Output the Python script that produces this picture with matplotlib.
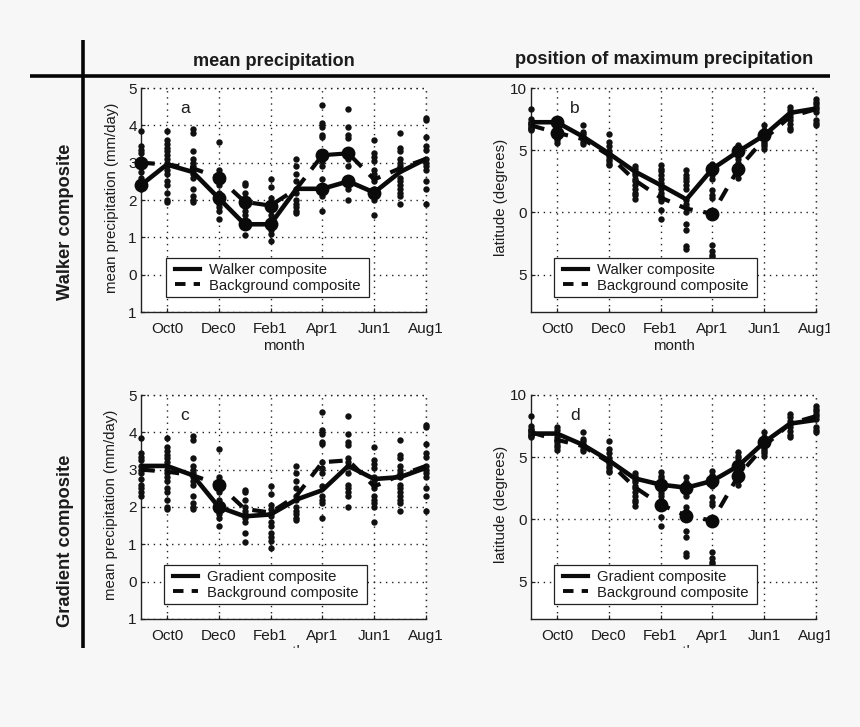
import matplotlib as mpl
mpl.use('Agg')
import matplotlib.pyplot as plt
from matplotlib.patches import Rectangle
from matplotlib.lines import Line2D
from matplotlib.legend_handler import HandlerLine2D

months = list(range(12))
tick_months = [1, 3, 5, 7, 9, 11]
tick_labels = ['Oct0', 'Dec0', 'Feb1', 'Apr1', 'Jun1', 'Aug1']

# yearly dots, one list per month (Sep0 .. Aug1)
precip_dots = [
    [3.85, 3.45, 3.35, 3.25, 3.1, 3.0, 2.9, 2.75, 2.6, 2.5, 2.4, 2.3],
    [3.85, 3.6, 3.5, 3.4, 3.3, 3.2, 3.1, 3.0, 2.9, 2.8, 2.7, 2.5, 2.4, 2.2, 2.0, 1.95],
    [3.9, 3.8, 3.3, 3.1, 3.0, 2.9, 2.8, 2.7, 2.6, 2.3, 2.1, 2.0, 1.95],
    [3.55, 2.8, 2.7, 2.6, 2.5, 2.4, 2.2, 2.1, 2.0, 1.9, 1.8, 1.7, 1.5],
    [2.45, 2.4, 2.2, 2.0, 1.9, 1.8, 1.7, 1.6, 1.3, 1.05],
    [2.55, 2.35, 2.05, 1.95, 1.85, 1.75, 1.6, 1.5, 1.3, 1.2, 1.1, 0.9],
    [3.1, 2.9, 2.7, 2.5, 2.3, 2.2, 2.0, 1.9, 1.8, 1.7, 1.65],
    [4.55, 4.05, 3.95, 3.75, 3.7, 3.2, 3.05, 2.9, 2.55, 2.3, 2.2, 2.1, 1.7],
    [4.45, 3.95, 3.75, 3.65, 3.3, 3.2, 3.1, 2.9, 2.6, 2.5, 2.4, 2.3, 2.0],
    [3.6, 3.25, 3.15, 3.05, 2.8, 2.7, 2.6, 2.5, 2.3, 2.2, 2.1, 2.0, 1.6],
    [3.8, 3.4, 3.3, 3.1, 3.0, 2.9, 2.8, 2.6, 2.5, 2.4, 2.3, 2.2, 2.1, 1.9],
    [4.2, 4.15, 3.7, 3.45, 3.35, 3.1, 3.0, 2.9, 2.8, 2.5, 2.3, 1.9],
]
lat_dots = [
    [8.3, 7.5, 7.3, 7.2, 7.1, 7.0, 6.9, 6.8, 6.7, 6.6],
    [7.4, 7.2, 6.9, 6.6, 6.4, 6.2, 6.0, 5.8, 5.6],
    [7.0, 6.5, 6.3, 6.1, 5.9, 5.7, 5.5],
    [6.3, 5.7, 5.3, 4.9, 4.7, 4.5, 4.3, 4.1, 3.9, 3.8],
    [3.7, 3.5, 3.2, 3.0, 2.7, 2.5, 2.2, 1.9, 1.6, 1.4, 1.1],
    [3.8, 3.5, 3.3, 3.0, 2.7, 2.4, 2.1, 1.9, 1.6, 1.3, 1.1, 0.9, 0.2, -0.5],
    [3.4, 3.0, 2.8, 2.5, 2.2, 1.9, 1.0, 0.7, 0.4, 0.0, -0.9, -1.4, -2.7, -2.9],
    [3.9, 3.6, 3.3, 3.0, 2.7, 1.8, 1.4, 1.2, 0.0, -2.6, -3.1, -3.4, -3.6],
    [5.4, 5.1, 4.9, 4.6, 4.3, 4.0, 3.7, 3.4, 3.1, 2.8],
    [7.0, 6.6, 6.3, 6.1, 5.9, 5.7, 5.5, 5.3, 5.1],
    [8.5, 8.2, 7.9, 7.7, 7.4, 7.1, 6.8, 6.6],
    [9.1, 8.9, 8.7, 8.5, 8.3, 8.1, 7.4, 7.2, 7.0],
]

precip_walker = [2.4, 2.95, 2.75, 2.05, 1.35, 1.35, 2.3, 2.3, 2.5, 2.2, 2.75, 3.1]
precip_gradient = [3.1, 3.1, 2.85, 2.0, 1.75, 1.8, 2.2, 2.45, 3.1, 2.75, 2.8, 3.05]
precip_background = [3.0, 2.95, 2.85, 2.6, 1.95, 1.85, 2.3, 3.2, 3.25, 2.55, 2.85, 3.1]
lat_walker = [7.25, 7.25, 6.1, 4.75, 3.3, 2.2, 1.05, 3.5, 4.9, 6.2, 8.0, 8.35]
lat_gradient = [6.9, 6.9, 6.0, 4.75, 3.3, 2.8, 2.55, 3.1, 4.3, 6.2, 7.7, 8.0]
lat_background = [7.0, 6.4, 5.9, 4.6, 2.6, 1.2, 0.3, -0.1, 3.5, 5.9, 7.7, 8.3]

# months that carry a big marker
big_a_main = [0, 3, 4, 5, 7, 8, 9]
big_a_back = [0, 3, 4, 5, 7, 8]
big_b_main = [1, 7, 8, 9]
big_b_back = [1, 7, 8]
big_c_main = [3]
big_c_back = [3]
big_d_main = [5, 6, 7, 8, 9]
big_d_back = [5, 6, 7, 8]

precip_ticks = [-1, 0, 1, 2, 3, 4, 5]
precip_ticklabels = ['1', '0', '1', '2', '3', '4', '5']
lat_ticks = [0, 5, 10, -5]
lat_ticklabels = ['0', '5', '10', '5']

W, H = 860, 727
BG = '#f7f7f7'
TXT = '#1c1c1c'
GRID = (0, (1, 3.4))
plt.rcParams['font.family'] = ['Liberation Sans', 'DejaVu Sans']

fig = plt.figure(figsize=(W / 100, H / 100), dpi=100, facecolor=BG)


def add_panel(left, top, right, bottom, dots, main, back, big_main, big_back, name,
              ylim, yticks, yticklabels, ylabel, letter, label_x, legend_x):
    ax = fig.add_axes([left / W, 1 - bottom / H, (right - left) / W, (bottom - top) / H])
    ax.set_facecolor('white')
    for m, vals in zip(months, dots):
        ax.plot([m] * len(vals), vals, 'o', color='#111111', ms=4.6, mew=0, zorder=3, clip_on=False)
    ax.plot(months, back, color='#0a0a0a', lw=3.0, dashes=(3.3, 2.6), zorder=4)
    ax.plot(months, main, color='#0a0a0a', lw=3.3, zorder=5)
    ax.plot(big_back, [back[i] for i in big_back], 'o', color='#0a0a0a', ms=10, mew=0, zorder=4, clip_on=False)
    ax.plot(big_main, [main[i] for i in big_main], 'o', color='#0a0a0a', ms=10, mew=0, zorder=5, clip_on=False)
    ax.set_xlim(0, 11)
    ax.set_ylim(*ylim)
    ax.set_xticks(tick_months)
    ax.set_xticklabels(tick_labels)
    ax.set_yticks(yticks)
    ax.set_yticklabels(yticklabels)
    ax.grid(True, color='#222222', ls=GRID, lw=1.0)
    ax.set_axisbelow(True)
    # gridlines along the open top and right edges
    ax.axhline(ylim[1], color='#222222', ls=GRID, lw=1.0, clip_on=False, zorder=1)
    ax.axvline(11, color='#222222', ls=GRID, lw=1.0, clip_on=False, zorder=1)
    ax.spines['top'].set_visible(False)
    ax.spines['right'].set_visible(False)
    for s in ['left', 'bottom']:
        ax.spines[s].set_linewidth(1.0)
        ax.spines[s].set_color('#222222')
    ax.tick_params(direction='in', length=3, width=0.9, color='#222222', labelcolor=TXT,
                   labelsize=11, pad=3)
    ax.tick_params(axis='x', pad=7)
    ax.set_xlabel('month', fontsize=10.8, color=TXT, labelpad=2)
    ax.set_ylabel(ylabel, fontsize=10.8, color=TXT)
    ax.yaxis.set_label_coords((label_x - left) / (right - left), 0.51)
    ax.text(1.7, 0.91, letter, transform=ax.get_xaxis_transform(), fontsize=12.5, color=TXT,
            ha='center', va='center', zorder=6)
    handles = [Line2D([], [], color='#0a0a0a', lw=3.0),
               Line2D([], [], color='#0a0a0a', lw=2.8, dashes=(2.7, 2.1))]
    pad_handler = HandlerLine2D(marker_pad=0.32, numpoints=2)
    leg = ax.legend(handles, [name, 'Background composite'], loc='lower left',
                    bbox_to_anchor=((legend_x - left) / 285, 15 / 224, 203 / 285, 38 / 224),
                    mode='expand', borderaxespad=0, fontsize=10.75,
                    fancybox=False, framealpha=1, edgecolor='#222222', handlelength=2.27,
                    labelspacing=0.12, borderpad=0.3, handletextpad=0.3, labelcolor=TXT,
                    handler_map={handles[0]: pad_handler, handles[1]: pad_handler})
    leg.get_frame().set_linewidth(0.9)
    leg.set_zorder(7)
    return ax


add_panel(141, 88, 426, 312, precip_dots, precip_walker, precip_background, big_a_main, big_a_back,
          'Walker composite', (-1, 5), precip_ticks, precip_ticklabels, 'mean precipitation (mm/day)', 'a', 119, 166)
add_panel(531, 88, 816, 312, lat_dots, lat_walker, lat_background, big_b_main, big_b_back,
          'Walker composite', (-8, 10), lat_ticks, lat_ticklabels, 'latitude (degrees)', 'b', 508, 554)
add_panel(141, 395, 426, 619, precip_dots, precip_gradient, precip_background, big_c_main, big_c_back,
          'Gradient composite', (-1, 5), precip_ticks, precip_ticklabels, 'mean precipitation (mm/day)', 'c', 118, 164)
add_panel(531, 395, 816, 619, lat_dots, lat_gradient, lat_background, big_d_main, big_d_back,
          'Gradient composite', (-8, 10), lat_ticks, lat_ticklabels, 'latitude (degrees)', 'd', 508, 554)

# the original is cropped at the right and bottom
fig.add_artist(Rectangle((830 / W, 0), 30 / W, 1, transform=fig.transFigure, color=BG, zorder=20))
fig.add_artist(Rectangle((0, 0), 1, (H - 648) / H, transform=fig.transFigure, color=BG, zorder=20))

# table rules
fig.add_artist(Line2D([30 / W, 830 / W], [1 - 75.5 / H] * 2, color='#050505', lw=2.6, zorder=21, solid_capstyle='butt'))
fig.add_artist(Line2D([83 / W, 83 / W], [1 - 40 / H, 1 - 648 / H], color='#050505', lw=2.6, zorder=21, solid_capstyle='butt'))

fig.text(274 / W, 1 - 62 / H, 'mean precipitation', fontsize=13.1, fontweight='bold', color=TXT, ha='center', va='center')
fig.text(664 / W, 1 - 60 / H, 'position of maximum precipitation', fontsize=13.15, fontweight='bold', color=TXT, ha='center', va='center')
fig.text(66 / W, 1 - 222 / H, 'Walker composite', fontsize=13.2, fontweight='bold', color=TXT, rotation=90, ha='center', va='center')
fig.text(66 / W, 1 - 541 / H, 'Gradient composite', fontsize=13.2, fontweight='bold', color=TXT, rotation=90, ha='center', va='center')

fig.savefig('out.png', dpi=100, facecolor=BG)
